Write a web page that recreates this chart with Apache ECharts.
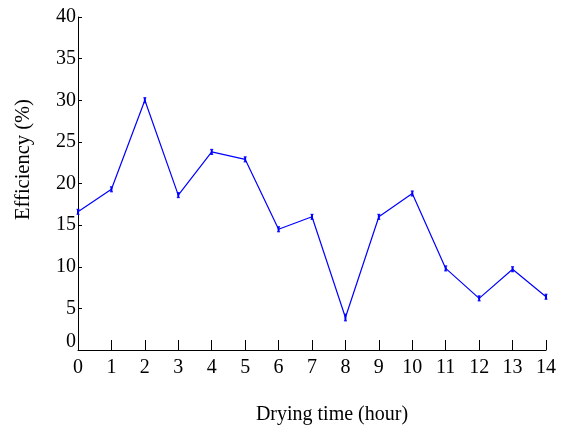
<!DOCTYPE html>
<html>
<head>
<meta charset="utf-8">
<script src="https://cdn.jsdelivr.net/npm/echarts@6/dist/echarts.min.js"></script>
<style>html,body{margin:0;padding:0;background:#fff}#c{width:571px;height:430px}</style>
</head>
<body>
<div id="c"></div>
<script>
var hours = [0,1,2,3,4,5,6,7,8,9,10,11,12,13,14];
var efficiency = [16.6,19.3,30.0,18.6,23.8,22.9,14.5,16.0,3.9,16.0,18.8,9.8,6.2,9.7,6.4];
var errors = [0.3,0.3,0.3,0.3,0.3,0.3,0.3,0.3,0.4,0.3,0.3,0.3,0.3,0.3,0.3];
var xTicks = [0,1,2,3,4,5,6,7,8,9,10,11,12,13,14];
var yTicks = [0,5,10,15,20,25,30,35,40];

var font = 'Liberation Serif';
var lineData = hours.map(function(h,i){return [h, efficiency[i]];});
var errData = hours.map(function(h,i){return [h, efficiency[i]-errors[i], efficiency[i]+errors[i]];});

var chart = echarts.init(document.getElementById('c'));
chart.setOption({
  animation:false,
  backgroundColor:'#fff',
  grid:{left:78,right:25,top:17,bottom:76,containLabel:false},
  xAxis:{
    type:'value',min:xTicks[0],max:xTicks[xTicks.length-1],interval:1,
    name:'Drying time (hour)',nameLocation:'middle',nameGap:55,
    nameTextStyle:{fontFamily:font,fontSize:20,color:'#000',padding:[0,0,0,40]},
    axisLine:{show:true,lineStyle:{color:'#000',width:1}},
    axisTick:{show:true,inside:true,length:10,lineStyle:{color:'#000'}},
    axisLabel:{fontFamily:font,fontSize:20,color:'#000',margin:8},
    splitLine:{show:false}
  },
  yAxis:{
    type:'value',min:yTicks[0],max:yTicks[yTicks.length-1],interval:5,
    name:'Efficiency (%)',nameLocation:'middle',nameGap:44,nameRotate:90,
    nameTextStyle:{fontFamily:font,fontSize:20.5,color:'#000',padding:[0,0,0,48]},
    axisLine:{show:true,lineStyle:{color:'#000',width:1}},
    axisTick:{show:true,inside:true,length:4,lineStyle:{color:'#000'}},
    axisLabel:{fontFamily:font,fontSize:20,color:'#000',margin:2,
      formatter:function(v){return v===0?'{z|0}':String(v);},
      rich:{z:{fontFamily:font,fontSize:20,color:'#000',padding:[0,0,16,0]}}},
    splitLine:{show:false}
  },
  series:[
    {type:'line',data:lineData,symbol:'none',lineStyle:{color:'#0000ff',width:1.2},z:2},
    {type:'custom',data:errData,z:3,
      renderItem:function(params,api){
        var x=api.value(0);
        var lo=api.coord([x,api.value(1)]);
        var hi=api.coord([x,api.value(2)]);
        var c=1.5;
        return {type:'group',children:[
          {type:'line',shape:{x1:lo[0],y1:lo[1],x2:hi[0],y2:hi[1]},style:{stroke:'#0000ff',lineWidth:2}},
          {type:'line',shape:{x1:lo[0]-c,y1:lo[1],x2:lo[0]+c,y2:lo[1]},style:{stroke:'#0000ff',lineWidth:1}},
          {type:'line',shape:{x1:hi[0]-c,y1:hi[1],x2:hi[0]+c,y2:hi[1]},style:{stroke:'#0000ff',lineWidth:1}}
        ]};
      }}
  ]
});
</script>
</body>
</html>
